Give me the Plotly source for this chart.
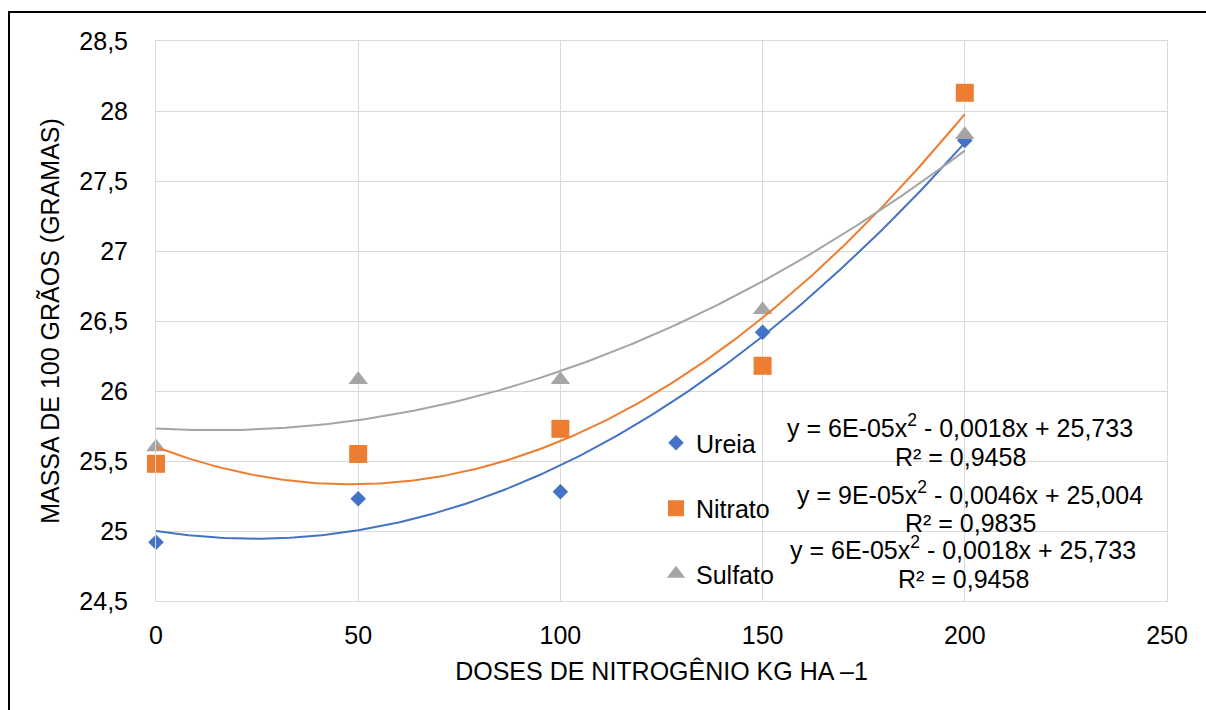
import numpy as np
import plotly.graph_objects as go

# ---------------- data ----------------
doses = [0, 50, 100, 150, 200]
ureia = [24.92, 25.23, 25.28, 26.42, 27.79]
nitrato = [25.48, 25.55, 25.73, 26.18, 28.13]
sulfato = [25.60, 26.08, 26.08, 26.58, 27.83]

# polynomial trend-line coefficients (a*x^2 + b*x + c)
ureia_trend = [9.17e-5, -0.00448, 25.00]
nitrato_trend = [1.147e-4, -0.01105, 25.60]
sulfato_trend = [5.83e-5, -0.00174, 25.733]

series_names = ["Ureia", "Nitrato", "Sulfato"]

x_ticks = [0, 50, 100, 150, 200, 250]
y_ticks = [24.5, 25, 25.5, 26, 26.5, 27, 27.5, 28, 28.5]
y_tick_text = ["24,5", "25", "25,5", "26", "26,5", "27", "27,5", "28", "28,5"]

eq_lines = [
    "y = 6E-05x<sup>2</sup> - 0,0018x + 25,733",
    "R² = 0,9458",
    "y = 9E-05x<sup>2</sup> - 0,0046x + 25,004",
    "R² = 0,9835",
    "y = 6E-05x<sup>2</sup> - 0,0018x + 25,733",
    "R² = 0,9458",
]

# ---------------- styles ----------------
FONT = "Liberation Sans, Arial, sans-serif"
colors = ["#4472C4", "#ED7D31", "#A5A5A5"]
symbols = ["diamond", "square", "triangle-up"]
sizes = [12, 18, 17]
GRID = "#D9D9D9"

W, H = 1206, 710
L, R, T, B = 156, 1167, 41, 601  # plot area in pixels


def px_to_paper(px, py):
    return (px - L) / (R - L), (B - py) / (B - T)


fig = go.Figure()

values = [ureia, nitrato, sulfato]
trends = [ureia_trend, nitrato_trend, sulfato_trend]

for i, (name, vals) in enumerate(zip(series_names, values)):
    fig.add_trace(go.Scatter(
        x=doses, y=vals, mode="markers", name=name,
        legendgroup=name, cliponaxis=False,
        marker=dict(symbol=symbols[i], size=sizes[i], color=colors[i],
                    line=dict(width=0)),
    ))

xs = np.linspace(min(doses), max(doses), 201)
for i, (name, coef) in enumerate(zip(series_names, trends)):
    ys = np.polyval(coef, xs)
    fig.add_trace(go.Scatter(
        x=xs, y=ys, mode="lines", showlegend=False, hoverinfo="skip",
        line=dict(color=colors[i], width=2),
    ))

# equation annotations
eq_pos = [(960, 426), (960, 457), (970, 493), (970, 523), (963, 548), (963, 579)]
for txt, (px, py) in zip(eq_lines, eq_pos):
    ax, ay = px_to_paper(px, py)
    fig.add_annotation(
        x=ax, y=ay, xref="paper", yref="paper", text=txt, showarrow=False,
        xanchor="center", yanchor="middle",
        font=dict(family=FONT, size=25, color="#000000"),
    )

# outer chart border (partially cropped at right/bottom)
bx0, by1 = px_to_paper(9, 12)
bx1, by0 = px_to_paper(1215, 720)
fig.add_shape(type="rect", xref="paper", yref="paper",
              x0=bx0, x1=bx1, y0=by0, y1=by1,
              line=dict(color="#000000", width=2), layer="above")

fig.update_layout(
    width=W, height=H,
    margin=dict(l=L, r=W - R, t=T, b=H - B, autoexpand=False),
    paper_bgcolor="white", plot_bgcolor="white",
    font=dict(family=FONT, size=25, color="#000000"),
    showlegend=True,
    legend=dict(
        x=px_to_paper(656, 0)[0], y=px_to_paper(0, 420)[1],
        xanchor="left", yanchor="top",
        bgcolor="rgba(0,0,0,0)", borderwidth=0,
        font=dict(family=FONT, size=25, color="#000000"),
        tracegroupgap=30, itemwidth=30,
    ),
    xaxis=dict(
        range=[0, 250], tickvals=x_ticks, ticktext=[str(v) for v in x_ticks],
        showgrid=True, gridcolor=GRID, gridwidth=1,
        showline=True, linecolor=GRID, linewidth=1, mirror=True,
        zeroline=False, ticks="", ticklabelstandoff=12,
        title=dict(text="DOSES DE NITROGÊNIO KG HA –1", standoff=14,
                   font=dict(family=FONT, size=25, color="#000000")),
    ),
    yaxis=dict(
        range=[24.5, 28.5], tickvals=y_ticks, ticktext=y_tick_text,
        showgrid=True, gridcolor=GRID, gridwidth=1,
        showline=True, linecolor=GRID, linewidth=1, mirror=True,
        zeroline=False, ticks="", ticklabelstandoff=22,
        title=dict(text="MASSA DE 100 GRÃOS (GRAMAS)", standoff=12,
                   font=dict(family=FONT, size=25, color="#000000")),
    ),
)

fig.write_html("out.html")
